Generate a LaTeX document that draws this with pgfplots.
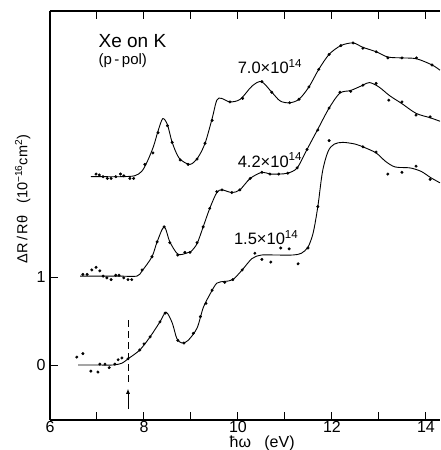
\documentclass[border=0pt]{standalone}
\usepackage{fontspec}
\setmainfont{Liberation Sans}
\usepackage{pgfplots}
\pgfplotsset{compat=1.18}
\usetikzlibrary{arrows.meta}

% smooth curves (7.0, 4.2, 1.5 x 10^14)
\pgfplotstableread{
x y
6.87 2.14
7.20 2.14
7.50 2.14
7.80 2.15
7.95 2.20
8.06 2.30
8.20 2.48
8.30 2.66
8.40 2.80
8.50 2.73
8.60 2.53
8.75 2.35
8.98 2.28
9.15 2.36
9.30 2.52
9.45 2.80
9.55 3.01
9.65 3.03
9.83 2.99
10.05 3.02
10.30 3.17
10.50 3.22
10.72 3.10
10.90 3.00
11.10 2.98
11.30 3.02
11.51 3.16
11.72 3.36
11.94 3.53
12.19 3.63
12.45 3.66
12.66 3.61
12.94 3.56
13.19 3.50
13.49 3.49
13.80 3.48
14.13 3.41
14.30 3.35
}\curvetop

\pgfplotstableread{
x y
6.64 1.01
7.00 1.01
7.50 1.01
7.85 1.01
7.96 1.07
8.17 1.23
8.28 1.40
8.43 1.57
8.55 1.40
8.72 1.26
8.90 1.27
9.00 1.29
9.13 1.38
9.26 1.57
9.40 1.78
9.55 1.96
9.66 1.99
9.87 1.96
10.04 1.99
10.26 2.12
10.51 2.19
10.68 2.17
10.87 2.17
11.06 2.18
11.26 2.24
11.47 2.45
11.70 2.68
11.94 2.92
12.17 3.09
12.40 3.12
12.66 3.18
12.80 3.21
13.00 3.16
13.23 3.06
13.49 2.97
13.79 2.86
14.09 2.81
14.30 2.77
}\curvemid

\pgfplotstableread{
x y
6.60 0.00
7.00 0.00
7.34 0.00
7.53 0.02
7.66 0.07
7.91 0.17
8.13 0.32
8.34 0.49
8.47 0.60
8.60 0.48
8.70 0.30
8.81 0.25
8.94 0.28
9.13 0.42
9.26 0.65
9.40 0.80
9.55 0.93
9.72 0.95
9.89 0.97
10.09 1.08
10.30 1.21
10.50 1.25
10.80 1.25
11.17 1.25
11.35 1.27
11.49 1.34
11.60 1.50
11.70 1.80
11.80 2.20
11.92 2.43
12.05 2.51
12.23 2.53
12.50 2.51
12.70 2.47
12.94 2.41
13.15 2.31
13.35 2.25
13.66 2.24
13.90 2.20
14.10 2.13
14.30 2.07
}\curvelow

% measured points
\pgfplotstableread{
x y
6.98 2.17
7.05 2.16
7.13 2.14
7.22 2.12
7.30 2.12
7.40 2.14
7.50 2.17
7.57 2.15
7.70 2.12
7.78 2.12
8.02 2.28
8.19 2.41
8.30 2.64
8.50 2.72
8.60 2.53
8.77 2.33
8.94 2.28
9.13 2.34
9.30 2.52
9.45 2.78
9.83 2.99
10.10 3.03
10.51 3.22
10.72 3.10
11.10 2.98
11.30 3.02
11.51 3.16
11.72 3.36
11.94 3.53
12.19 3.63
12.45 3.66
12.66 3.60
12.94 3.56
13.19 3.49
13.49 3.49
13.80 3.49
14.13 3.41
}\dotstop

\pgfplotstableread{
x y
6.70 1.03
6.79 1.03
6.89 1.08
6.98 1.11
7.06 1.07
7.13 1.01
7.21 0.99
7.30 0.97
7.40 1.02
7.47 1.02
7.57 0.99
7.66 0.97
7.74 0.97
7.96 1.08
8.17 1.23
8.28 1.40
8.43 1.57
8.55 1.39
8.72 1.25
8.87 1.28
8.98 1.28
9.13 1.39
9.26 1.57
9.40 1.78
9.55 1.97
9.66 1.99
9.87 1.96
10.04 1.99
10.26 2.12
10.51 2.19
10.68 2.17
10.87 2.17
11.06 2.18
11.26 2.24
11.47 2.45
11.70 2.67
11.94 2.92
12.17 3.10
12.40 3.11
12.66 3.18
12.94 3.20
13.21 3.01
13.49 2.99
13.79 2.84
14.09 2.82
}\dotsmid

\pgfplotstableread{
x y
6.57 0.09
6.70 0.13
6.87 -0.07
7.02 -0.08
7.06 0.01
7.17 0.01
7.26 -0.03
7.38 0.01
7.45 0.06
7.53 0.08
7.66 0.07
7.91 0.17
8.00 0.24
8.13 0.32
8.34 0.49
8.45 0.59
8.72 0.28
8.85 0.25
9.05 0.36
9.20 0.55
9.32 0.70
9.45 0.85
9.72 0.94
9.89 0.97
10.09 1.08
10.36 1.27
10.51 1.20
10.70 1.17
10.91 1.33
11.09 1.32
11.28 1.15
11.49 1.33
11.70 1.80
11.94 2.55
12.66 2.48
12.94 2.42
13.19 2.17
13.49 2.19
13.79 2.26
14.09 2.11
}\dotslow

\begin{document}
\begin{tikzpicture}
\begin{axis}[
    scale only axis,
    width=390pt, height=409pt,
    xmin=6, xmax=14.3,
    ymin=-0.625, ymax=4.023,
    axis x line*=box,
    axis y line*=left,
    axis line style={line width=1.3pt},
    xtick={6,8,10,12,14},
    minor xtick={7,9,11,13},
    ytick={0,1},
    tick align=inside,
    major tick length=8pt,
    minor tick length=8pt,
    tick style={line width=1pt, black},
    ticklabel style={font=\fontsize{16}{18}\selectfont},
    /pgf/number format/assume math mode=true,
    xticklabel style={yshift=2pt},
    yticklabel style={xshift=-1pt},
    xlabel={ħω\ \ \ (eV)},
    xlabel style={at={(axis description cs:0.544,-0.056)}, anchor=center,
        font=\fontsize{16}{18}\selectfont},
    ylabel={ΔR\,/\,Rθ\ \ \ (10\textsuperscript{−16}cm\textsuperscript{2})},
    ylabel style={at={(axis description cs:-0.07,0.54)}, anchor=center,
        font=\fontsize{14.5}{16}\selectfont},
    clip=false,
]
\addplot[black, line width=0.9pt, smooth, tension=0.5] table {\curvetop};
\addplot[black, line width=0.9pt, smooth, tension=0.5] table {\curvemid};
\addplot[black, line width=0.9pt, smooth, tension=0.5] table {\curvelow};
\addplot[only marks, mark=*, mark size=1.3pt, black] table {\dotstop};
\addplot[only marks, mark=*, mark size=1.3pt, black] table {\dotsmid};
\addplot[only marks, mark=*, mark size=1.3pt, black] table {\dotslow};

\draw[line width=0.9pt, dash pattern=on 7pt off 4pt]
    (axis cs:7.66,0.51) -- (axis cs:7.66,-0.22);
\draw[line width=0.9pt, -{Latex[length=5pt,width=4pt]}]
    (axis cs:7.66,-0.50) -- (axis cs:7.66,-0.27);

\node[anchor=west, font=\fontsize{19}{21}\selectfont] at (axis cs:6.96,3.68) {Xe on K};
\node[anchor=west, font=\fontsize{15}{17}\selectfont] at (axis cs:6.96,3.46) {(p\,-\,pol)};
\node[font=\fontsize{16.5}{18}\selectfont] at (axis cs:10.68,3.39) {7.0×10\textsuperscript{14}};
\node[font=\fontsize{16.5}{18}\selectfont] at (axis cs:10.68,2.33) {4.2×10\textsuperscript{14}};
\node[font=\fontsize{16.5}{18}\selectfont] at (axis cs:10.60,1.45) {1.5×10\textsuperscript{14}};
\end{axis}
\pgfresetboundingbox
\path[use as bounding box] (-50pt,-30pt) rectangle (390pt,420pt);
\end{tikzpicture}
\end{document}
